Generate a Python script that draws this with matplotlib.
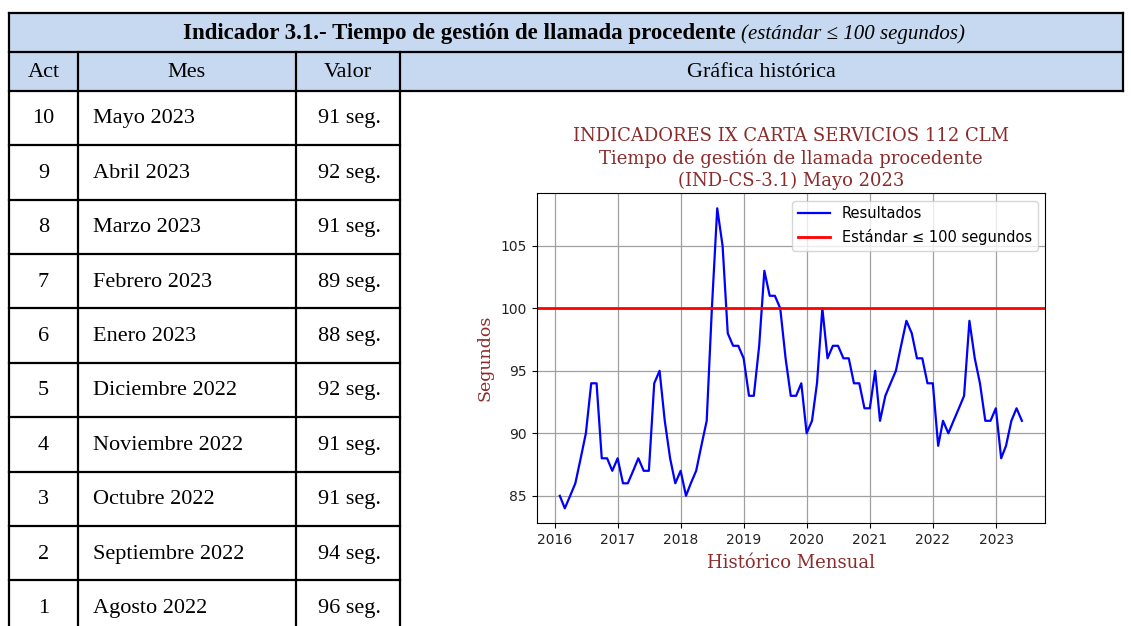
import numpy as np
import pandas as pd
import matplotlib
matplotlib.use("Agg")
import matplotlib.pyplot as plt
import matplotlib.dates as mdates
from matplotlib.patches import Rectangle

# ---------------------------------------------------------------------------
# datos de la tabla
act = [10, 9, 8, 7, 6, 5, 4, 3, 2, 1]
meses = ["Mayo 2023", "Abril 2023", "Marzo 2023", "Febrero 2023", "Enero 2023",
         "Diciembre 2022", "Noviembre 2022", "Octubre 2022", "Septiembre 2022",
         "Agosto 2022"]
valores = [91, 92, 91, 89, 88, 92, 91, 91, 94, 96]

# serie mensual (enero 2016 - mayo 2023), segundos
resultados = [85, 84, 85, 86, 88, 90, 94, 94, 88, 88, 87, 88,
              86, 86, 87, 88, 87, 87, 94, 95, 91, 88, 86, 87,
              85, 86, 87, 89, 91, 100, 108, 105, 98, 97, 97, 96,
              93, 93, 97, 103, 101, 101, 100, 96, 93, 93, 94, 90,
              91, 94, 100, 96, 97, 97, 96, 96, 94, 94, 92, 92,
              95, 91, 93, 94, 95, 97, 99, 98, 96, 96, 94, 94,
              89, 91, 90, 91, 92, 93, 99, 96, 94, 91, 91, 92,
              88, 89, 91, 92, 91]
fechas = pd.date_range("2016-01-31", periods=len(resultados), freq="ME")
estandar = 100

titulo = "Indicador 3.1.- Tiempo de gestión de llamada procedente"
subtitulo = "(estándar ≤ 100 segundos)"
cabeceras = ["Act", "Mes", "Valor", "Gráfica histórica"]

##############################################################################
W, H = 1131, 626
fig = plt.figure(figsize=(W / 100, H / 100), dpi=100)

# capa de la tabla en coordenadas de pixel
tab = fig.add_axes([0, 0, 1, 1])
tab.set_xlim(0, W)
tab.set_ylim(H, 0)
tab.axis("off")

x_izq, x_act, x_mes, x_val, x_der = 9, 77.7, 296, 400, 1123
y_top, y_h1, y_h2 = 13.3, 52.3, 90.7
filas = [90.7, 145.1, 199.5, 253.9, 308.3, 362.7, 417.1, 471.5, 525.9, 580.3, 634.7]

azul = "#c6d9f1"
tab.add_patch(Rectangle((x_izq, y_top), x_der - x_izq, y_h2 - y_top,
                        facecolor=azul, edgecolor="none"))

lw = 1.6
for y in (y_top, y_h1, y_h2):
    tab.plot([x_izq, x_der], [y, y], color="black", lw=lw, solid_capstyle="projecting")
for y in filas[1:-1]:
    tab.plot([x_izq, x_val], [y, y], color="black", lw=lw, solid_capstyle="projecting")
tab.plot([x_izq, x_izq], [y_top, H], color="black", lw=lw)
tab.plot([x_der, x_der], [y_top, y_h2], color="black", lw=lw)
for x in (x_act, x_mes, x_val):
    tab.plot([x, x], [y_h1, H], color="black", lw=lw)

serif = "Liberation Serif"
tab.text(736, (y_top + y_h1) / 2 + 1, titulo, ha="right", va="center",
         fontfamily=serif, fontweight="bold", fontsize=16.5)
tab.text(741, (y_top + y_h1) / 2 + 1, subtitulo, ha="left", va="center",
         fontfamily=serif, fontstyle="italic", fontsize=15)

yc = (y_h1 + y_h2) / 2 + 1
tab.text((x_izq + x_act) / 2, yc, cabeceras[0], ha="center", va="center", fontfamily=serif, fontsize=16)
tab.text((x_act + x_mes) / 2, yc, cabeceras[1], ha="center", va="center", fontfamily=serif, fontsize=16)
tab.text((x_mes + x_val) / 2, yc, cabeceras[2], ha="center", va="center", fontfamily=serif, fontsize=16)
tab.text((x_val + x_der) / 2, yc, cabeceras[3], ha="center", va="center", fontfamily=serif, fontsize=16)

for i in range(len(act)):
    yc = (filas[i] + filas[i + 1]) / 2 + 1
    tab.text((x_izq + x_act) / 2, yc, str(act[i]), ha="center", va="center", fontfamily=serif, fontsize=16)
    tab.text(93, yc, meses[i], ha="left", va="center", fontfamily=serif, fontsize=16)
    tab.text((x_mes + x_val) / 2 + 1, yc, f"{valores[i]} seg.", ha="center", va="center",
             fontfamily=serif, fontsize=16)

##############################################################################
# grafica historica
ax_l, ax_r, ax_t, ax_b = 536.7, 1045, 193.3, 523.3
ax = fig.add_axes([ax_l / W, 1 - ax_b / H, (ax_r - ax_l) / W, (ax_b - ax_t) / H])

ax.plot(fechas, resultados, color="blue", lw=1.6, label="Resultados")
ax.axhline(estandar, color="red", lw=2, label="Estándar ≤ 100 segundos")

ax.xaxis.set_major_locator(mdates.YearLocator())
ax.xaxis.set_major_formatter(mdates.DateFormatter("%Y"))
ax.grid(True, color="#a0a0a0", lw=0.9)
ax.tick_params(labelsize=10, labelcolor="#222222")

rojo = "#8b2b2b"
ax.set_title("INDICADORES IX CARTA SERVICIOS 112 CLM\n"
             "Tiempo de gestión de llamada procedente\n"
             "(IND-CS-3.1) Mayo 2023",
             fontfamily="DejaVu Serif", fontsize=13, color=rojo, pad=5, linespacing=1.27)
ax.set_ylabel("Segundos", fontfamily="DejaVu Serif", fontsize=12.5, color=rojo, labelpad=5)
ax.set_xlabel("Histórico Mensual", fontfamily="DejaVu Serif", fontsize=13, color=rojo, labelpad=5)

ax.legend(loc="upper right", fontsize=10.5, handlelength=2.2, labelspacing=0.5)

fig.savefig("out.png", dpi=100)
